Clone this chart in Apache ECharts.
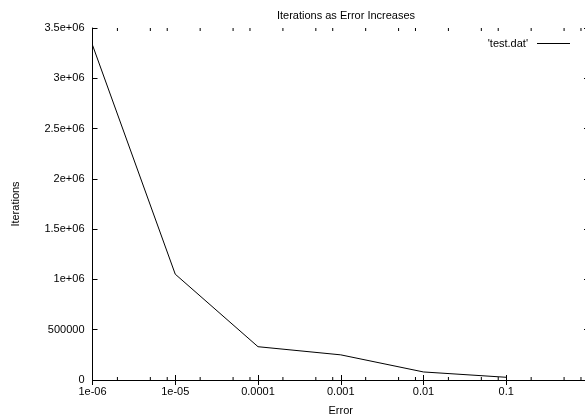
<!DOCTYPE html>
<html>
<head>
<meta charset="utf-8">
<script src="https://cdn.jsdelivr.net/npm/echarts@6/dist/echarts.min.js"></script>
<style>html,body{margin:0;padding:0;background:#fff}#c{width:585px;height:419px}</style>
</head>
<body>
<div id="c"></div>
<script>
const errors = [1e-6, 1e-5, 1e-4, 1e-3, 1e-2, 1e-1];
const iterations = [3330000, 1052000, 331000, 250000, 80000, 27000];
const xTickLabels = ['1e-06','1e-05','0.0001','0.001','0.01','0.1'];
const yTickLabels = ['0','500000','1e+06','1.5e+06','2e+06','2.5e+06','3e+06','3.5e+06'];
const minorTicks = [2e-6,5e-6,8e-6,2e-5,5e-5,8e-5,2e-4,5e-4,8e-4,2e-3,5e-3,8e-3,2e-2,5e-2,8e-2,2e-1,5e-1,8e-1];
const xMin = 1e-6, xMax = 1;
const yMin = 0, yMax = 3500000, yStep = 500000;
const font = 'Liberation Sans, Arial, sans-serif';

function fmtX(v){
  const i = Math.round(Math.log10(v) - Math.log10(xMin));
  return xTickLabels[i] || '';
}
const chart = echarts.init(document.getElementById('c'), null, {renderer:'canvas'});
const axisCommon = {
  axisLine:{show:true, lineStyle:{color:'#000', width:1}},
  splitLine:{show:false},
  axisTick:{show:true, inside:true, length:5, lineStyle:{color:'#000'}},
  minorTick:{show:false}
};
chart.setOption({
  animation:false,
  backgroundColor:'#fff',
  title:{text:'Iterations as Error Increases', left:341, textAlign:'center', top:5,
    textStyle:{fontFamily:font, fontSize:11, fontWeight:'normal', color:'#000'}},
  legend:{data:["'test.dat'"], right:10, top:33, align:'right', icon:'rect',
    itemWidth:33, itemHeight:1, textStyle:{fontFamily:font, fontSize:11, color:'#000', padding:[0,4,0,0]}},
  grid:{left:92.5, right:-4, top:28, bottom:39, containLabel:false, outerBoundsMode:'none'},
  xAxis:[
    Object.assign({type:'log', logBase:10, min:xMin, max:xMax, position:'bottom',
      name:'Error', nameLocation:'middle', nameGap:25,
      nameTextStyle:{fontFamily:font, fontSize:11, color:'#000'},
      axisLabel:{fontFamily:font, fontSize:11, color:'#000', margin:6, formatter:fmtX, showMaxLabel:false}
    }, axisCommon),
    Object.assign({type:'log', logBase:10, min:xMin, max:xMax, position:'top',
      axisLabel:{show:false}}, axisCommon)
  ],
  yAxis:[
    Object.assign({type:'value', min:yMin, max:yMax, interval:yStep, position:'left',
      name:'Iterations', nameLocation:'middle', nameGap:71, nameRotate:90,
      nameTextStyle:{fontFamily:font, fontSize:11, color:'#000'},
      axisLabel:{fontFamily:font, fontSize:11, color:'#000', margin:8,
        formatter:function(v){return yTickLabels[Math.round((v-yMin)/yStep)];}}
    }, axisCommon),
    Object.assign({type:'value', min:yMin, max:yMax, interval:yStep, position:'right',
      axisLabel:{show:false}}, axisCommon)
  ],
  series:[
    {name:"'test.dat'", type:'line', xAxisIndex:0, yAxisIndex:0,
      data: errors.map((e,i)=>[e, iterations[i]]),
      showSymbol:false, symbol:'none', lineStyle:{color:'#000', width:1}, itemStyle:{color:'#000'}},
    {type:'custom', xAxisIndex:0, yAxisIndex:0, silent:true, clip:false,
      data: minorTicks.map(v=>[v]),
      renderItem:function(params, api){
        const v = api.value(0);
        const b = api.coord([v, yMin]);
        const t = api.coord([v, yMax]);
        return {type:'group', children:[
          {type:'line', shape:{x1:b[0], y1:b[1], x2:b[0], y2:b[1]-3}, style:{stroke:'#000', lineWidth:1}},
          {type:'line', shape:{x1:t[0], y1:t[1], x2:t[0], y2:t[1]+3}, style:{stroke:'#000', lineWidth:1}}
        ]};
      }}
  ]
});
</script>
</body>
</html>
